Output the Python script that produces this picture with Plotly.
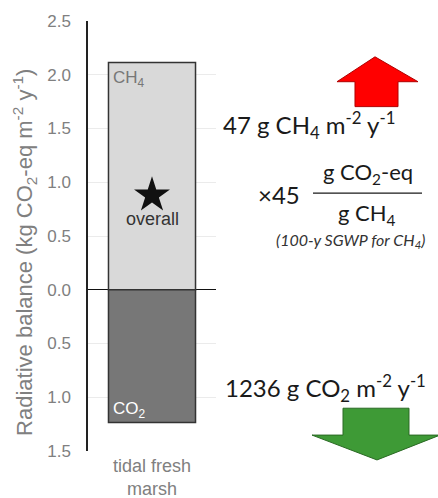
import plotly.graph_objects as go

# ---- data ----
categories = ["tidal fresh marsh"]
ch4_flux_g = [47]          # g CH4 m-2 y-1
sgwp_ch4 = 45              # g CO2-eq / g CH4
co2_flux_g = [1236]        # g CO2 m-2 y-1 (uptake)
ch4_balance = [v * sgwp_ch4 / 1000 for v in ch4_flux_g]   # kg CO2-eq
co2_balance = [-v / 1000 for v in co2_flux_g]
overall = [a + b for a, b in zip(ch4_balance, co2_balance)]
tick_vals = [-1.5, -1.0, -0.5, 0.0, 0.5, 1.0, 1.5, 2.0, 2.5]
tick_text = ["1.5", "1.0", "0.5", "0.0", "0.5", "1.0", "1.5", "2.0", "2.5"]

W, H = 438, 498
L, R, T, B = 88, 222, 19, 47
PW, PH = W - L - R, H - T - B


def px(x):
    return (x - L) / PW


def py(y):
    return (H - B - y) / PH


fig = go.Figure()
fig.add_trace(go.Bar(x=categories, y=ch4_balance, width=0.68,
                     marker=dict(color="#d9d9d9", line=dict(color="#333333", width=1.5)),
                     hoverinfo="skip"))
fig.add_trace(go.Bar(x=categories, y=co2_balance, width=0.68,
                     marker=dict(color="#777777", line=dict(color="#333333", width=1.5)),
                     hoverinfo="skip"))
fig.add_trace(go.Scatter(x=categories, y=overall, mode="markers",
                         marker=dict(symbol="star", size=27, color="#111111"),
                         hoverinfo="skip"))


def A(**kw):
    base = dict(showarrow=False, xanchor="center", yanchor="middle")
    base.update(kw)
    return base


ann = []
ann.append(A(x=categories[0], y=overall[0], xref="x", yref="y", yshift=-24,
             text="overall",
             font=dict(family="Liberation Sans", size=18, color="#333333")))
ann.append(A(x=px(111), y=ch4_balance[0], xref="paper", yref="y", yshift=-17,
             xanchor="left", text="CH<sub>4</sub>",
             font=dict(family="Liberation Sans", size=17, color="#777777")))
ann.append(A(x=px(111), y=co2_balance[0], xref="paper", yref="y", yshift=13,
             xanchor="left", text="CO<sub>2</sub>",
             font=dict(family="Liberation Sans", size=17, color="#ffffff")))
# x category label
ann.append(A(x=categories[0], y=py(478), xref="x", yref="paper",
             text="tidal fresh<br>marsh",
             font=dict(family="Liberation Sans", size=18, color="#808080")))
# y axis title
ann.append(A(x=px(25), y=py(252), xref="paper", yref="paper", textangle=-90,
             text="Radiative balance (kg CO<sub>2</sub>-eq m<sup>-2</sup> y<sup>-1</sup>)",
             font=dict(family="Liberation Sans", size=22, color="#808080")))

rf = dict(family="Lato", size=24, color="#1a1a1a")
ff = dict(family="Lato", size=22, color="#1a1a1a")
ann.append(A(x=px(221), y=py(123), xref="paper", yref="paper", xanchor="left",
             text=f"{ch4_flux_g[0]} g CH<sub>4</sub> m<sup>-2</sup> y<sup>-1</sup>", font=rf))
ann.append(A(x=px(279), y=py(193), xref="paper", yref="paper",
             text=f"×{sgwp_ch4}", font=dict(family="Lato", size=24, color="#1a1a1a")))
ann.append(A(x=px(368), y=py(172), xref="paper", yref="paper",
             text="g CO<sub>2</sub>-eq", font=ff))
ann.append(A(x=px(367), y=py(213), xref="paper", yref="paper",
             text="g CH<sub>4</sub>", font=ff))
ann.append(A(x=px(350), y=py(240), xref="paper", yref="paper",
             text="<i>(100-y SGWP for CH<sub>4</sub>)</i>",
             font=dict(family="Lato", size=16, color="#333333")))
ann.append(A(x=px(223), y=py(388), xref="paper", yref="paper", xanchor="left",
             text=f"{co2_flux_g[0]} g CO<sub>2</sub> m<sup>-2</sup> y<sup>-1</sup>", font=rf))


def path(points):
    return "M " + " L ".join(f"{px(a):.4f},{py(b):.4f}" for a, b in points) + " Z"


shapes = [
    dict(type="line", xref="paper", yref="paper", x0=px(313), x1=px(422), y0=py(192), y1=py(192),
         line=dict(color="#1a1a1a", width=1.2)),
    dict(type="path", xref="paper", yref="paper",
         path=path([(375, 55), (418, 80), (398, 80), (398, 105), (355, 105), (355, 80), (337, 80)]),
         fillcolor="#ff0000", line=dict(color="#b00000", width=1)),
    dict(type="path", xref="paper", yref="paper",
         path=path([(343, 408), (409, 408), (409, 435), (440, 435), (377, 460), (312, 435), (343, 435)]),
         fillcolor="#3e9a36", line=dict(color="#2a6a24", width=1)),
]

fig.update_layout(
    width=W, height=H, margin=dict(l=L, r=R, t=T, b=B),
    barmode="relative", showlegend=False,
    paper_bgcolor="white", plot_bgcolor="white",
    annotations=ann, shapes=shapes,
    xaxis=dict(type="category", range=[-0.5, 0.5], showticklabels=False,
               showgrid=False, zeroline=False, showline=False, fixedrange=True),
    yaxis=dict(range=[-1.5, 2.5], tickvals=tick_vals, ticktext=tick_text,
               showgrid=True, gridcolor="#ebebeb", gridwidth=1,
               zeroline=True, zerolinecolor="#111111", zerolinewidth=1.2,
               showline=True, linecolor="#222222", linewidth=1.5,
               ticks="", ticklabelstandoff=12, fixedrange=True,
               tickfont=dict(family="Liberation Sans", size=17, color="#808080")),
)

fig.write_html("out.html", config={"displayModeBar": False},
               post_script="document.body.style.margin='0';document.body.style.overflow='hidden';")
